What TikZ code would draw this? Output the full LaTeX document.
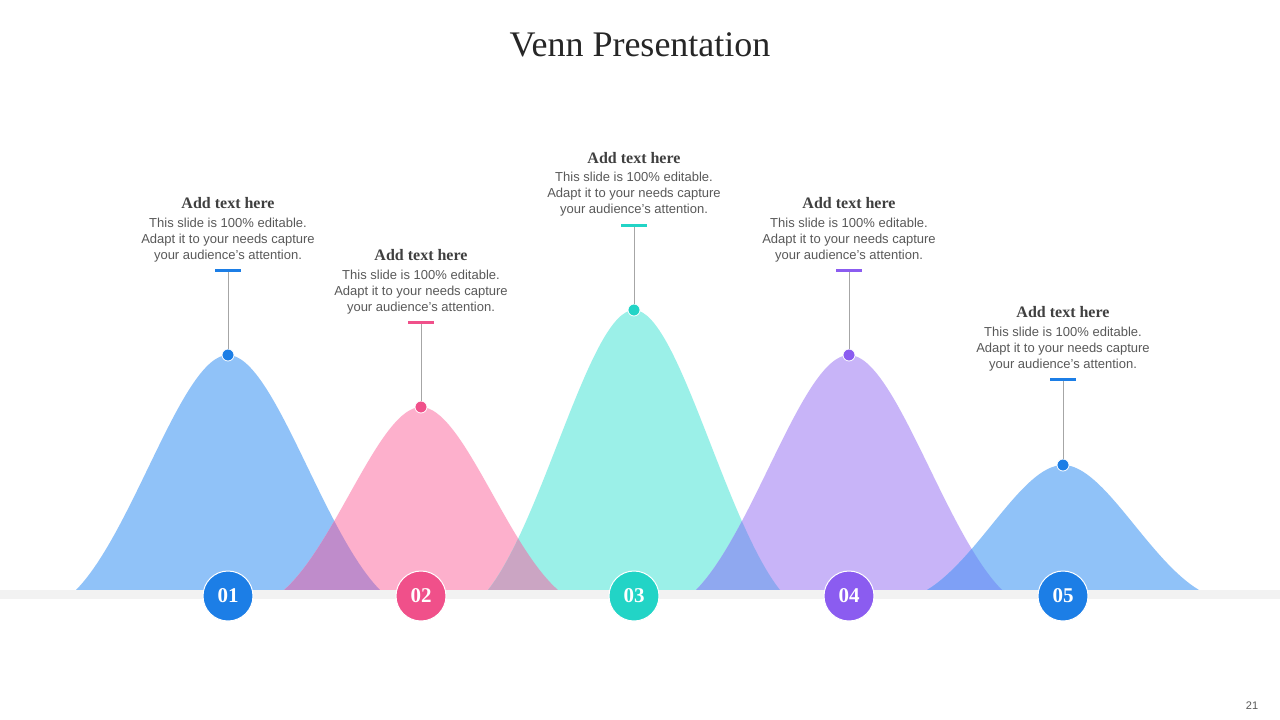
\documentclass[tikz,border=0pt]{standalone}
\usepackage{fontspec}
\setmainfont{Liberation Serif}
\newfontfamily\arialf{Liberation Sans}
\definecolor{bellblue}{HTML}{90C2F8}
\definecolor{bellpink}{HTML}{FDB0CC}
\definecolor{bellteal}{HTML}{9BF0E8}
\definecolor{bellpurple}{HTML}{C8B4F8}
\definecolor{ovA}{HTML}{BF8CCB}
\definecolor{ovB}{HTML}{CBA5C3}
\definecolor{ovC}{HTML}{8FA8F0}
\definecolor{ovD}{HTML}{7EA0F6}
\definecolor{dblue}{HTML}{1C7EE6}
\definecolor{dpink}{HTML}{F0508A}
\definecolor{dteal}{HTML}{22D4C6}
\definecolor{dpurple}{HTML}{8B5CF0}
\definecolor{stripgray}{HTML}{F2F2F2}
\definecolor{titlegray}{HTML}{262626}
\definecolor{headgray}{HTML}{404040}
\definecolor{bodygray}{HTML}{595959}
\definecolor{stemgray}{HTML}{A6A6A6}
\begin{document}
\begin{tikzpicture}[x=1pt,y=-1pt,
  bell/.style n args={3}{insert path={({#1-#2},590) .. controls ({#1-0.62*#2},{590-0.25*#3}) and ({#1-0.3*#2},{590-#3}) .. (#1,{590-#3}) .. controls ({#1+0.3*#2},{590-#3}) and ({#1+0.62*#2},{590-0.25*#3}) .. ({#1+#2},590) -- cycle}},
  maintitle/.style={font=\fontsize{36}{40}\selectfont, text=titlegray, inner sep=0},
  ttl/.style={font=\bfseries\fontsize{16}{18}\selectfont, text=headgray, inner sep=0},
  body/.style={font=\arialf\fontsize{13}{16}\selectfont, text=bodygray, align=center, inner sep=0},
  num/.style={circle, minimum size=50, inner sep=0, draw=white, line width=1, text=white, font=\bfseries\fontsize{21}{21}\selectfont},
  dot/.style={circle, minimum size=12, inner sep=0, draw=white, line width=0.8},
  bar/.style={rectangle, minimum width=26, minimum height=3, inner sep=0},
  stem/.style={draw=stemgray, line width=0.8},
  pg/.style={font=\arialf\fontsize{11}{13}\selectfont, text=bodygray, inner sep=0}
]
\useasboundingbox (0,0) rectangle (1280,720);
\fill[white] (0,0) rectangle (1280,720);

% bells
\fill[bellblue, bell={228}{152}{235}];
\fill[bellpink, bell={421}{137}{183}];
\fill[bellteal, bell={634}{146}{280}];
\fill[bellpurple, bell={849}{153}{235}];
\fill[bellblue, bell={1063}{136}{125}];

% overlaps
\begin{scope}
  \clip[bell={228}{152}{235}];
  \fill[ovA, bell={421}{137}{183}];
\end{scope}
\begin{scope}
  \clip[bell={421}{137}{183}];
  \fill[ovB, bell={634}{146}{280}];
\end{scope}
\begin{scope}
  \clip[bell={634}{146}{280}];
  \fill[ovC, bell={849}{153}{235}];
\end{scope}
\begin{scope}
  \clip[bell={849}{153}{235}];
  \fill[ovD, bell={1063}{136}{125}];
\end{scope}

% baseline strip
\fill[stripgray] (0,590) rectangle (1280,599);

% title
\node[maintitle] (title) at (640,45) {Venn Presentation};

% peak dots
\node[dot, fill=dblue] (p1) at (228,355) {};
\node[dot, fill=dpink] (p2) at (421,407) {};
\node[dot, fill=dteal] (p3) at (634,310) {};
\node[dot, fill=dpurple] (p4) at (849,355) {};
\node[dot, fill=dblue] (p5) at (1063,465) {};

% bars
\node[bar, fill=dblue] (r1) at (228,270) {};
\node[bar, fill=dpink] (r2) at (421,322) {};
\node[bar, fill=dteal] (r3) at (634,225) {};
\node[bar, fill=dpurple] (r4) at (849,270) {};
\node[bar, fill=dblue] (r5) at (1063,379) {};

% stems
\draw[stem] (p1.north) -- (r1.south);
\draw[stem] (p2.north) -- (r2.south);
\draw[stem] (p3.north) -- (r3.south);
\draw[stem] (p4.north) -- (r4.south);
\draw[stem] (p5.north) -- (r5.south);

% text blocks
\node[ttl] (h1) at (228,203) {Add text here};
\node[body] (b1) at (228,240) {This slide is 100\% editable.\\Adapt it to your needs capture\\your audience’s attention.};
\node[ttl] (h2) at (421,255) {Add text here};
\node[body] (b2) at (421,292) {This slide is 100\% editable.\\Adapt it to your needs capture\\your audience’s attention.};
\node[ttl] (h3) at (634,158) {Add text here};
\node[body] (b3) at (634,194) {This slide is 100\% editable.\\Adapt it to your needs capture\\your audience’s attention.};
\node[ttl] (h4) at (849,203) {Add text here};
\node[body] (b4) at (849,240) {This slide is 100\% editable.\\Adapt it to your needs capture\\your audience’s attention.};
\node[ttl] (h5) at (1063,312) {Add text here};
\node[body] (b5) at (1063,349) {This slide is 100\% editable.\\Adapt it to your needs capture\\your audience’s attention.};

% number circles
\node[num, fill=dblue] (n1) at (228,596) {01};
\node[num, fill=dpink] (n2) at (421,596) {02};
\node[num, fill=dteal] (n3) at (634,596) {03};
\node[num, fill=dpurple] (n4) at (849,596) {04};
\node[num, fill=dblue] (n5) at (1063,596) {05};

% page number
\node[pg] (pg) at (1252,706) {21};
\end{tikzpicture}
\end{document}
